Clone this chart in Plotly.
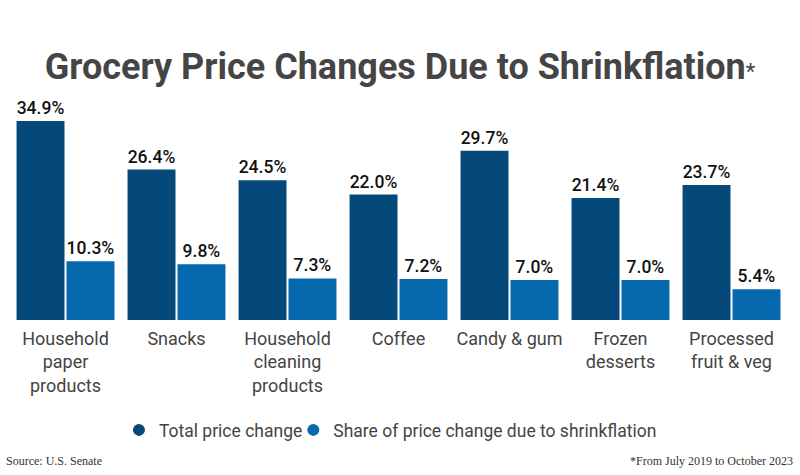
import plotly.graph_objects as go

categories = ["Household<br>paper<br>products", "Snacks", "Household<br>cleaning<br>products",
              "Coffee", "Candy & gum", "Frozen<br>desserts", "Processed<br>fruit & veg"]
total_change = [34.9, 26.4, 24.5, 22.0, 29.7, 21.4, 23.7]
shrink_share = [10.3, 9.8, 7.3, 7.2, 7.0, 7.0, 5.4]
series_names = ["Total price change", "Share of price change due to shrinkflation"]

DARK = "#05497A"
BLUE = "#0669AD"

fig = go.Figure()
legend_ids = ["legend", "legend2"]
for vals, name, col, lg in [(total_change, series_names[0], DARK, legend_ids[0]),
                            (shrink_share, series_names[1], BLUE, legend_ids[1])]:
    fig.add_trace(go.Bar(
        x=categories, y=vals, name=name, marker=dict(color=col, line=dict(width=0)),
        texttemplate="%{y:.1f}%", textposition="outside", cliponaxis=False,
        textfont=dict(family="Roboto", size=17.5, color="#111111", weight=500),
        showlegend=False,
    ))
    fig.add_trace(go.Scatter(
        x=[None], y=[None], mode="markers", name=name, legend=lg,
        marker=dict(symbol="circle", size=17, color=col),
    ))

legend_style = dict(orientation="h", xanchor="left", y=-0.5, yanchor="middle",
                    font=dict(family="Roboto", size=17.5, color="#444444"),
                    itemsizing="constant", bgcolor="rgba(0,0,0,0)")

fig.update_layout(
    width=800, height=475,
    margin=dict(l=9.5, r=13, t=100, b=155),
    paper_bgcolor="white", plot_bgcolor="white",
    barmode="group", bargap=0.1, bargroupgap=0.04,
    title=dict(text="<b>Grocery Price Changes Due to Shrinkflation</b><span style='font-size:22px'>*</span>",
               x=0.5, xanchor="center", y=0.861, yanchor="middle",
               font=dict(family="Roboto", size=36, color="#454545")),
    xaxis=dict(showgrid=False, showline=False, ticks="", zeroline=False, automargin=False,
               range=[-0.5, 6.5], ticklabelstandoff=6,
               tickfont=dict(family="Roboto", size=18, color="#444444")),
    yaxis=dict(visible=False, range=[0, 38.6], showgrid=False, zeroline=False, automargin=False),
    legend=dict(x=0.1402, **legend_style),
    legend2=dict(x=0.3646, **legend_style),
    annotations=[
        dict(text="Source: U.S. Senate", xref="paper", yref="paper", x=-0.008, y=-0.641,
             xanchor="left", yanchor="middle", showarrow=False,
             font=dict(family="Liberation Serif", size=12, color="#333333")),
        dict(text="*From July 2019 to October 2023", xref="paper", yref="paper", x=1.01, y=-0.641,
             xanchor="right", yanchor="middle", showarrow=False,
             font=dict(family="Liberation Serif", size=12, color="#333333")),
    ],
)

fig.write_html("out.html", config={"displayModeBar": False},
               post_script="document.body.style.margin='0px';")
